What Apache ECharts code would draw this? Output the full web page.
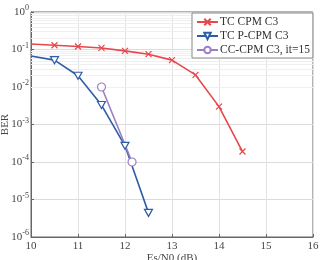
<!DOCTYPE html>
<html>
  <head>
    <meta charset="utf-8" />
    <title>BER vs Es/N0</title>
    <script src="https://cdn.jsdelivr.net/npm/echarts@6/dist/echarts.min.js"></script>
  </head>
  <body style="margin:0;background:#fff">
    <div id="chart" style="width: 320px; height: 260px"></div>
    <script>
      // data
      var seriesNames = ["TC CPM C3", "TC P-CPM C3", "CC-CPM C3, it=15"];
      var tcCpmX = [10, 10.5, 11, 11.5, 12, 12.5, 13, 13.5, 14, 14.5];
      var tcCpmY = [0.14, 0.13, 0.12, 0.11, 0.092, 0.075, 0.052, 0.021, 0.003, 0.00019];
      var tcPcpmX = [10, 10.5, 11, 11.5, 12, 12.5];
      var tcPcpmY = [0.067, 0.052, 0.02, 0.0033, 0.00027, 0.0000044];
      var ccCpmX = [11.5, 12.15];
      var ccCpmY = [0.01, 0.0001];

      var red = "#e8474c";
      var blue = "#2f5da6";
      var purple = "#9b7fc4";
      var font = "Liberation Serif";

      function pairs(xs, ys, hideFirst) {
        return xs.map(function (x, i) {
          var p = { value: [x, ys[i]] };
          if (hideFirst && i === 0) p.symbol = "none";
          return p;
        });
      }

      // minor log gridlines 2..9 x 10^k
      var minorLines = [];
      for (var k = -6; k < 0; k++) {
        for (var j = 2; j <= 9; j++) {
          minorLines.push({ yAxis: j * Math.pow(10, k) });
        }
      }

      var option = {
        animation: false,
        backgroundColor: "#fff",
        grid: {
          left: 31,
          right: 7,
          top: 12,
          bottom: 23,
          outerBoundsMode: "none",
          containLabel: false,
          show: true,
          borderColor: "#666",
          borderWidth: 1,
          backgroundColor: "#fff",
        },
        legend: {
          data: seriesNames,
          orient: "vertical",
          left: 192,
          top: 13,
          z: 10,
          itemWidth: 21,
          itemHeight: 8,
          itemGap: 2,
          padding: [3, 3, 2, 4],
          backgroundColor: "#fff",
          borderColor: "#888",
          borderWidth: 1,
          borderRadius: 0,
          textStyle: { fontFamily: font, fontSize: 11.5, color: "#333", padding: [0, 0, 0, -3] },
        },
        xAxis: {
          type: "value",
          min: 10,
          max: 16,
          interval: 1,
          name: "Es/N0 (dB)",
          nameLocation: "middle",
          nameGap: 16,
          nameMoveOverlap: false,
          nameTextStyle: { fontFamily: font, fontSize: 11, color: "#444" },
          axisLine: { lineStyle: { color: "#666" } },
          axisTick: { inside: true, length: 3, lineStyle: { color: "#666" } },
          axisLabel: { fontFamily: font, fontSize: 11, color: "#444", margin: 4 },
          splitLine: { show: true, lineStyle: { color: "#e2e2e2" } },
        },
        yAxis: {
          type: "log",
          min: 1e-6,
          max: 1,
          logBase: 10,
          name: "BER",
          nameLocation: "middle",
          nameGap: 20,
          nameMoveOverlap: false,
          nameTextStyle: { fontFamily: font, fontSize: 11, color: "#444" },
          axisLine: { lineStyle: { color: "#666" } },
          axisTick: { inside: true, length: 3, lineStyle: { color: "#666" } },
          axisLabel: {
            margin: 2,
            formatter: function (v) {
              var e = Math.round(Math.log10(v));
              return "{b|10}{s|" + e + "}";
            },
            rich: {
              b: { fontFamily: font, fontSize: 11, color: "#444" },
              s: { fontFamily: font, fontSize: 8, color: "#444", padding: [0, 0, 8, 0] },
            },
          },
          splitLine: { show: true, lineStyle: { color: "#dcdcdc" } },
        },
        series: [
          {
            name: "grid-minor",
            type: "line",
            data: [],
            silent: true,
            z: 1,
            markLine: {
              silent: true,
              z: 1,
              symbol: "none",
              label: { show: false },
              lineStyle: { color: "#efefef", type: "solid", width: 1 },
              data: minorLines,
            },
          },
          {
            name: seriesNames[0],
            type: "line",
            data: pairs(tcCpmX, tcCpmY, true),
            symbol: "path://M0,0L10,10M10,0L0,10",
            symbolSize: 6,
            lineStyle: { color: red, width: 1.6 },
            itemStyle: { color: red, borderColor: red, borderWidth: 1.2 },
          },
          {
            name: seriesNames[1],
            type: "line",
            data: pairs(tcPcpmX, tcPcpmY, true),
            symbol: "path://M0,0L10,0L5,8.66Z",
            symbolSize: [8, 7],
            lineStyle: { color: blue, width: 1.6 },
            itemStyle: { color: "#fff", borderColor: blue, borderWidth: 1.2 },
          },
          {
            name: seriesNames[2],
            type: "line",
            data: pairs(ccCpmX, ccCpmY, false),
            symbol: "circle",
            symbolSize: 8,
            lineStyle: { color: purple, width: 1.6 },
            itemStyle: { color: "#fff", borderColor: purple, borderWidth: 1.2 },
          },
        ],
      };

      var chart = echarts.init(document.getElementById("chart"));
      chart.setOption(option);
    </script>
  </body>
</html>
